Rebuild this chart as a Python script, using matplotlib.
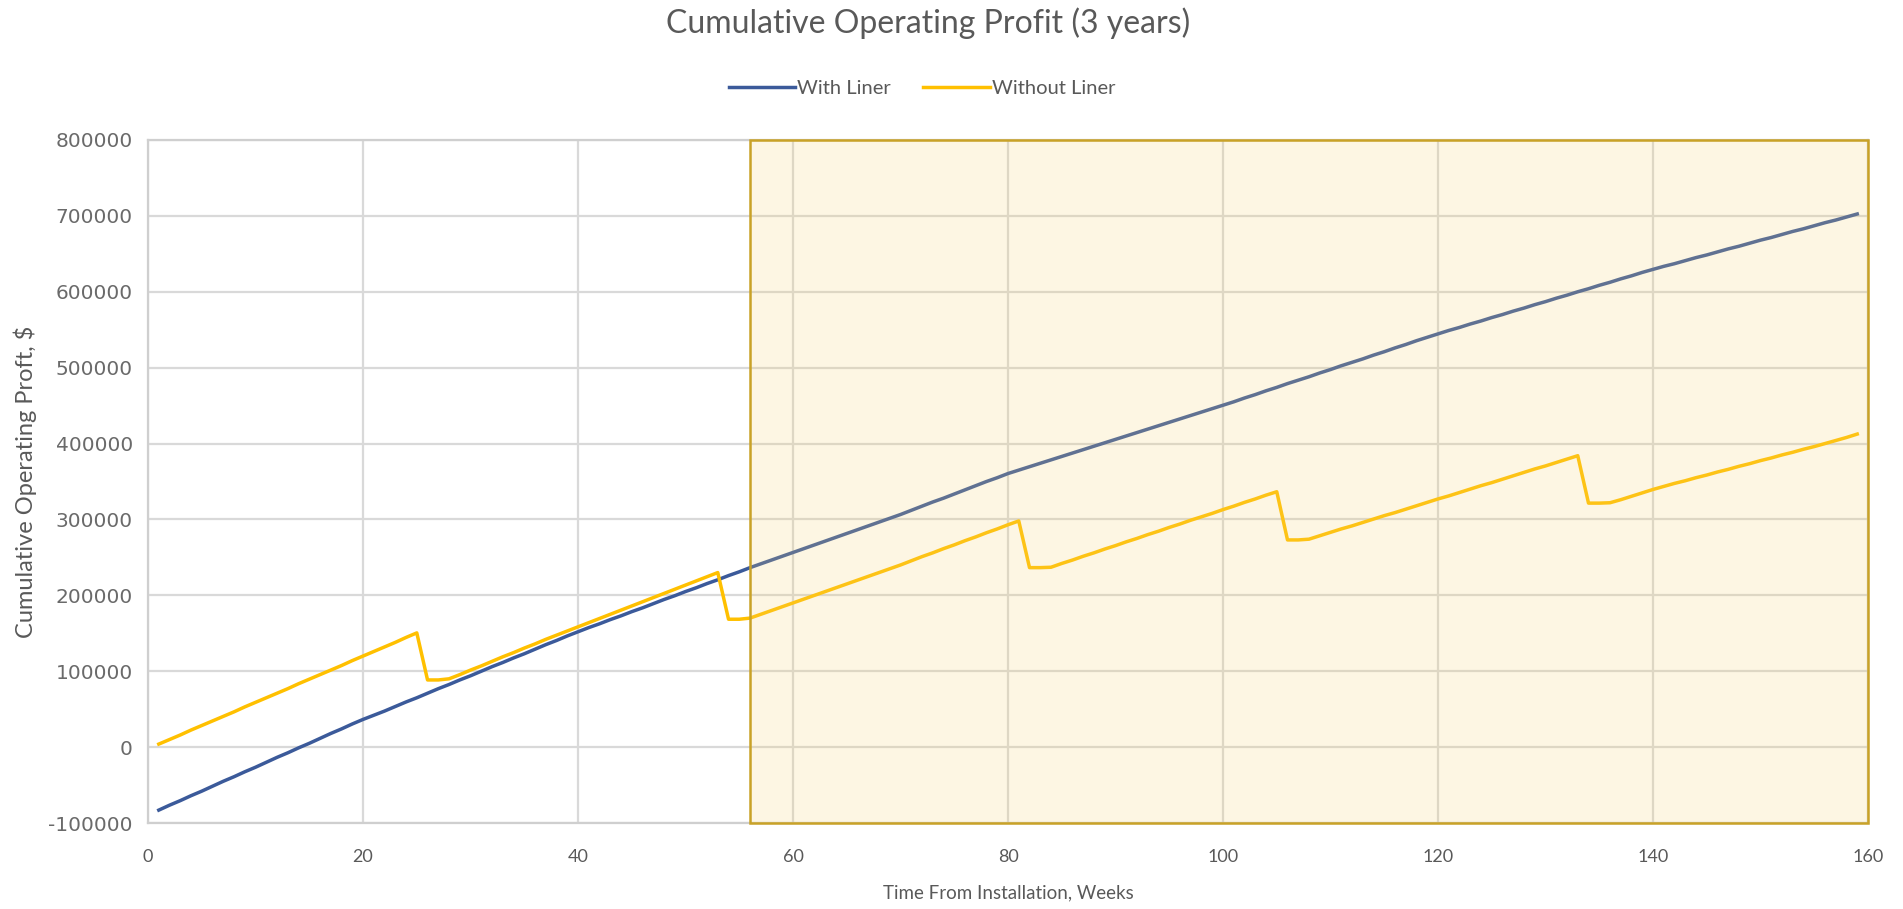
import matplotlib
matplotlib.use("Agg")
import matplotlib.pyplot as plt
from matplotlib import font_manager
from matplotlib.patches import Rectangle
from matplotlib.ticker import StrMethodFormatter, MultipleLocator

plt.rcParams["axes.unicode_minus"] = False

# ---------------- data ----------------
weeks = list(range(1, 160))

with_liner = [
    -83000, -76500, -70500, -64000, -58000, -51500, -45000, -39000, -32500, -26500,
    -20000, -13500, -7500, -1000, 5000, 11500, 18000, 24000, 30500, 36500,
    42000, 47500, 53500, 59500, 65000, 71000, 77000, 82500, 88500, 94000,
    100000, 106000, 111500, 117500, 123000, 129000, 135000, 140500, 146500, 152000,
    157500, 162500, 168000, 173000, 178500, 183500, 189000, 194500, 199500, 205000,
    210000, 215500, 220500, 226000, 231000, 236500, 241500, 246500, 251500, 256500,
    261500, 266500, 271500, 276500, 281500, 286500, 291500, 296500, 301500, 306500,
    312000, 317500, 323000, 328000, 333500, 339000, 344500, 350000, 355000, 360500,
    365000, 369500, 374000, 378500, 383000, 387500, 392000, 396500, 401000, 405500,
    410000, 414500, 419000, 423500, 428000, 432500, 437000, 441500, 446000, 450500,
    455000, 460000, 464500, 469500, 474000, 479000, 483500, 488000, 493000, 497500,
    502500, 507000, 511500, 516500, 521000, 526000, 530500, 535500, 540000, 544500,
    549000, 553000, 557500, 561500, 566000, 570000, 574500, 578500, 583000, 587000,
    591500, 595500, 600000, 604000, 608500, 612500, 617000, 621000, 625500, 629500,
    633500, 637000, 641000, 645000, 648500, 652500, 656500, 660000, 664000, 668000,
    671500, 675500, 679500, 683000, 687000, 691000, 694500, 698500, 702500,
]

without_liner = [
    4000, 10000, 16000, 22500, 28500, 34500, 40500, 46500, 53000, 59000,
    65000, 71000, 77000, 83500, 89500, 95500, 101500, 107500, 114000, 120000,
    126000, 132000, 138000, 144500, 150500, 88500, 88500, 90000, 95500, 101500,
    107000, 113000, 119000, 124500, 130500, 136000, 142000, 147500, 153000, 158500,
    164000, 169500, 175000, 180500, 186000, 191500, 197000, 202500, 208000, 213500,
    219000, 224500, 230000, 168500, 168500, 170000, 175000, 180000, 185000, 190000,
    195000, 200000, 205000, 210000, 215000, 220000, 225000, 230000, 235000, 240000,
    245500, 251000, 256000, 261500, 266500, 272000, 277000, 282500, 287500, 293000,
    298000, 236500, 236500, 237000, 242000, 246500, 251500, 256000, 261000, 265500,
    270500, 275000, 280000, 284500, 289500, 294000, 299000, 303500, 308000, 313000,
    317500, 322500, 327000, 332000, 336500, 273000, 273000, 274000, 278500, 283000,
    287500, 291500, 296000, 300500, 305000, 309000, 313500, 318000, 322500, 327000,
    331000, 335500, 340000, 344500, 348500, 353000, 357500, 362000, 366500, 370500,
    375000, 379500, 384000, 321500, 321500, 322000, 326000, 330500, 335000, 339500,
    343500, 347500, 351000, 355000, 358500, 362500, 366000, 370000, 373500, 377500,
    381000, 385000, 388500, 392500, 396000, 400000, 404000, 408000, 412500,
]

series_names = ["With Liner", "Without Liner"]
title = "Cumulative Operating Profit (3 years)"
x_label = "Time From Installation, Weeks"
y_label = "Cumulative Operating Proft, $"
highlight_start = 56
x_range = (0, 160)
y_range = (-100000, 800000)

# ---------------- fonts ----------------
avail = {f.name for f in font_manager.fontManager.ttflist}
main_font = "Lato" if "Lato" in avail else "DejaVu Sans"
narrow_font = "Liberation Sans Narrow" if "Liberation Sans Narrow" in avail else main_font

text_col = "#595959"
grid_col = "#D9D9D9"
blue = "#3B5A9A"
gold = "#FFC000"

fig = plt.figure(figsize=(19.03, 9.09), dpi=100)
ax = fig.add_axes([0.0778, 0.0946, 0.9038, 0.7514])

ax.plot(weeks, with_liner, color=blue, lw=2.5, label=series_names[0], zorder=3,
        solid_joinstyle="round")
ax.plot(weeks, without_liner, color=gold, lw=2.5, label=series_names[1], zorder=3,
        solid_joinstyle="round")

ax.set_xlim(*x_range)
ax.set_ylim(*y_range)
ax.xaxis.set_major_locator(MultipleLocator(20))
ax.yaxis.set_major_locator(MultipleLocator(100000))
ax.yaxis.set_major_formatter(StrMethodFormatter("{x:.0f}"))
ax.grid(True, color=grid_col, lw=1.6, zorder=1)
ax.set_axisbelow(True)
for s in ax.spines.values():
    s.set_color("#CFCFCF")
    s.set_linewidth(1.6)

ax.tick_params(axis="both", length=0, colors=text_col)
ax.tick_params(axis="y", pad=11, labelsize=14.5)
ax.tick_params(axis="x", pad=19, labelsize=13)
for lab in ax.get_yticklabels():
    lab.set_family("DejaVu Sans")
    lab.set_color("#6a6a6a")
for lab in ax.get_xticklabels():
    lab.set_family(narrow_font)

# highlighted region (overlay)
rect = Rectangle((highlight_start, y_range[0]), x_range[1] - highlight_start,
                 y_range[1] - y_range[0], facecolor=(245/255, 210/255, 115/255),
                 alpha=0.2, edgecolor="none", zorder=4)
ax.add_patch(rect)
edge = Rectangle((highlight_start, y_range[0]), x_range[1] - highlight_start,
                 y_range[1] - y_range[0], facecolor="none",
                 edgecolor="#C9A227", lw=1.8, zorder=5, clip_on=False)
ax.add_patch(edge)

ax.set_xlabel(x_label, fontsize=13.5, color=text_col, family=narrow_font, labelpad=14)
ax.set_ylabel(y_label, fontsize=17, color=text_col, family=main_font, labelpad=8)

fig.text(0.4877, 0.974, title, ha="center", va="center", fontsize=23,
         color=text_col, family=main_font)

leg = fig.legend(loc="center", bbox_to_anchor=(0.4845, 0.903), ncol=2, frameon=False,
                 handlelength=3.3, handletextpad=0.1, columnspacing=1.6,
                 prop={"family": narrow_font, "size": 14.5})
for t in leg.get_texts():
    t.set_color(text_col)

fig.savefig("out.png", dpi=100)
